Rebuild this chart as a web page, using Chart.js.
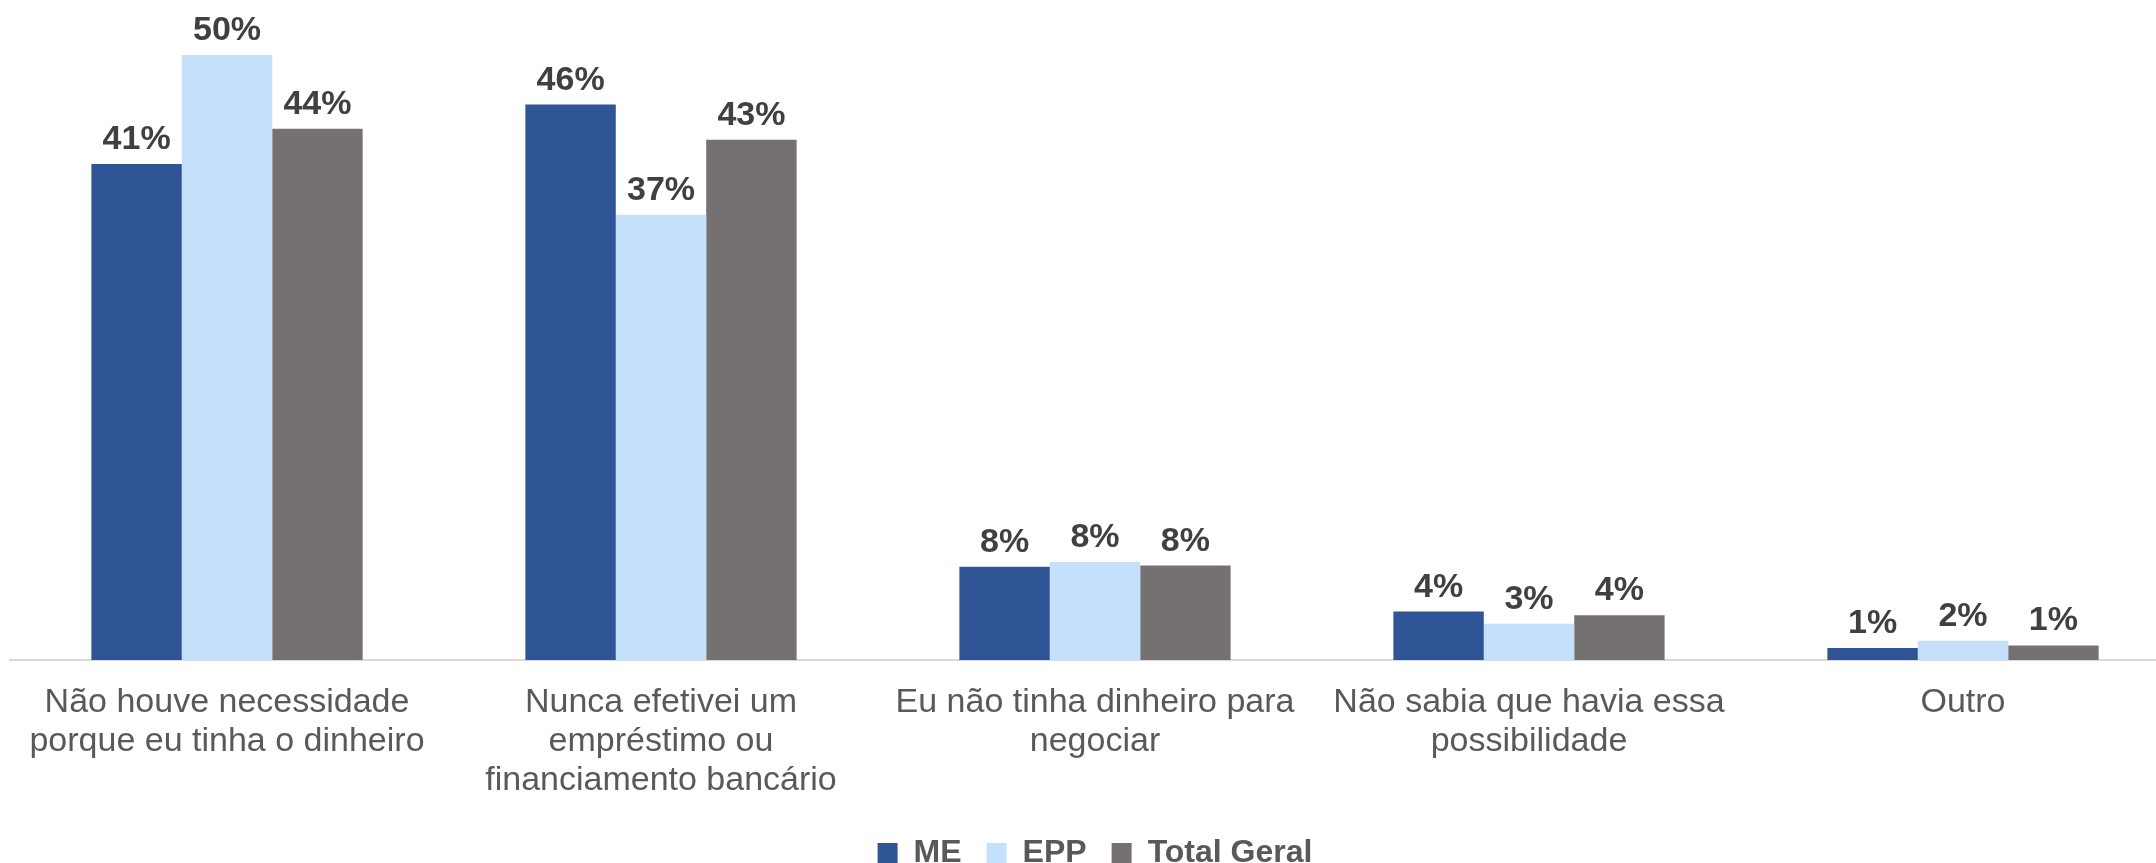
<!DOCTYPE html>
<html>
<head>
<meta charset="utf-8">
<script src="https://cdn.jsdelivr.net/npm/chart.js@4/dist/chart.umd.min.js"></script>
<style>
  html, body { margin: 0; padding: 0; background: #ffffff; overflow: hidden; }
  #wrap { position: relative; width: 2180px; height: 879px; }
</style>
</head>
<body>
<div id="wrap"><canvas id="c"></canvas></div>
<script>
const categories = [
  ["Não houve necessidade", "porque eu tinha o dinheiro"],
  ["Nunca efetivei um", "empréstimo ou", "financiamento bancário"],
  ["Eu não tinha dinheiro para", "negociar"],
  ["Não sabia que havia essa", "possibilidade"],
  ["Outro"]
];
const seriesNames = ["ME", "EPP", "Total Geral"];
const meValues = [41.0, 45.9, 7.7, 4.0, 1.0];
const eppValues = [50.0, 36.8, 8.1, 3.0, 1.6];
const totalValues = [43.9, 43.0, 7.8, 3.7, 1.2];
const seriesColors = ["#2F5597", "#C5E0FA", "#767171"];

const FONT = '"Liberation Sans", Arial, sans-serif';

const dataLabelPlugin = {
  id: 'dataLabels',
  afterDatasetsDraw(chart) {
    const ctx = chart.ctx;
    ctx.save();
    ctx.font = 'bold 34px ' + FONT;
    ctx.fillStyle = '#404040';
    ctx.textAlign = 'center';
    ctx.textBaseline = 'alphabetic';
    chart.data.datasets.forEach((ds, di) => {
      const meta = chart.getDatasetMeta(di);
      meta.data.forEach((bar, i) => {
        const v = ds.data[i];
        ctx.fillText(Math.round(v) + '%', bar.x, bar.y - 15);
      });
    });
    ctx.restore();
  }
};

new Chart(document.getElementById('c'), {
  type: 'bar',
  data: {
    labels: categories,
    datasets: [
      { label: seriesNames[0], data: meValues, backgroundColor: seriesColors[0] },
      { label: seriesNames[1], data: eppValues, backgroundColor: seriesColors[1] },
      { label: seriesNames[2], data: totalValues, backgroundColor: seriesColors[2] }
    ]
  },
  options: {
    responsive: true,
    maintainAspectRatio: false,
    animation: false,
    datasets: { bar: { categoryPercentage: 0.625, barPercentage: 1.0 } },
    layout: { padding: { top: 55, left: 10, right: 0, bottom: 0 } },
    scales: {
      x: {
        grid: { display: false },
        border: { display: true, color: '#D9D9D9', width: 2 },
        ticks: {
          color: '#595959',
          padding: 15,
          maxRotation: 0,
          autoSkip: false,
          font: { family: FONT, size: 34, lineHeight: 1.15 }
        },
        afterFit: (s) => { s.height = 152; }
      },
      y: {
        display: false,
        min: 0,
        max: 50
      }
    },
    plugins: {
      legend: {
        position: 'bottom',
        labels: {
          color: '#595959',
          boxWidth: 20,
          boxHeight: 20,
          padding: 25,
          font: { family: FONT, size: 32, weight: 'bold' }
        }
      },
      tooltip: { enabled: false }
    }
  },
  plugins: [dataLabelPlugin]
});
</script>
</body>
</html>
